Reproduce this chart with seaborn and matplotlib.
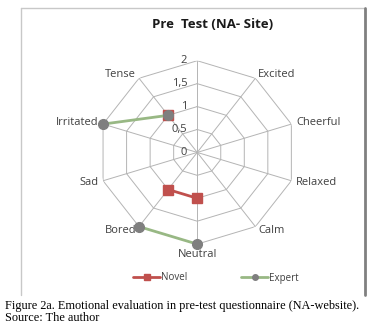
import numpy as np
import pandas as pd
import matplotlib
matplotlib.use("Agg")
import matplotlib.pyplot as plt
from matplotlib.lines import Line2D
import seaborn as sns

# data (blank = no answer, Excel leaves a gap)
categories = ["", "Excited", "Cheerful", "Relaxed", "Calm", "Neutral",
              "Bored", "Sad", "Irritated", "Tense"]
novel = [np.nan, np.nan, np.nan, np.nan, np.nan, 1, 1, np.nan, np.nan, 1]
expert = [np.nan, np.nan, np.nan, np.nan, np.nan, 2, 2, np.nan, 2, 1]
r_ticks = [0, 0.5, 1, 1.5, 2]
r_tick_labels = ["0", "0,5", "1", "1,5", "2"]

sns.set_style("white")
plt.rcParams["font.family"] = ["Open Sans", "DejaVu Sans"]

n = len(categories)
theta = np.linspace(0, 2 * np.pi, n, endpoint=False)
df = pd.DataFrame({"category": categories, "theta": theta,
                   "Novel": novel, "Expert": expert})

red = "#c0504d"
green = "#98b884"
grey = "#7f7f7f"
gridc = "#b4b4b4"

fig = plt.figure(figsize=(3.77, 3.29), dpi=100)

# chart frame (Excel chart area)
fig.add_artist(Line2D([0.055, 0.055], [0.103, 0.977], color="#c8c8c8", lw=1))
fig.add_artist(Line2D([0.055, 0.968], [0.977, 0.977], color="#c8c8c8", lw=1))
fig.add_artist(Line2D([0.968, 0.968], [0.103, 0.977], color="#808080", lw=2))

ax = fig.add_axes([0.2605, 0.258, 0.5252, 0.5574], projection="polar")
ax.set_aspect("auto")
ax.set_theta_zero_location("N")
ax.set_theta_direction(-1)
ax.set_ylim(0, 2)
ax.grid(False)
ax.spines["polar"].set_visible(False)
ax.set_xticks([])
ax.set_yticks([])
ax.patch.set_alpha(0)

# decagon grid + spokes
ring = np.append(theta, theta[0])
for r in r_ticks[1:]:
    ax.plot(ring, [r] * len(ring), color=gridc, lw=0.7, zorder=1)
for t in theta:
    ax.plot([t, t], [0, 2], color=gridc, lw=0.7, zorder=1)

# radial tick labels along the top spoke
for r, lab in zip(r_ticks, r_tick_labels):
    ax.annotate(lab, (0, r), xytext=(-10, 0), textcoords="offset pixels",
                ha="right", va="center", fontsize=8, color="#404040")

# category labels
for t, lab in zip(theta, categories):
    s, c = np.sin(t), np.cos(t)
    if abs(s) < 0.1:
        ha = "center"
    elif s > 0:
        ha = "left"
    else:
        ha = "right"
    va = "top" if c < -0.9 else ("bottom" if c > 0.9 else "center")
    ax.annotate(lab, (t, 2), xytext=(5 * s, 5 * c), textcoords="offset pixels",
                ha=ha, va=va, fontsize=8, color="#404040")

# series
ax.plot(df["theta"], df["Novel"], color=red, lw=2, marker="s", ms=7,
        mfc=red, mec=red, zorder=3, clip_on=False)
ax.plot(df["theta"], df["Expert"], color=green, lw=2, marker="o", ms=7,
        mfc=grey, mec=grey, zorder=4, clip_on=False)

handles = [Line2D([], [], color=red, lw=2, marker="s", ms=5, mfc=red, mec=red),
           Line2D([], [], color=green, lw=2, marker="o", ms=4, mfc=grey, mec=grey)]
fig.legend(handles, ["Novel", "Expert"], loc="center",
           bbox_to_anchor=(216 / 377, 1 - 278 / 329), ncol=2, frameon=False,
           fontsize=7, handlelength=2.8, handletextpad=0.1, columnspacing=5.5,
           labelcolor="#404040")

fig.text(213 / 377, 1 - 25 / 329, "Pre  Test (NA- Site)", ha="center",
         va="center", fontsize=9.5, fontweight="bold", color="#1a1a1a")

cap = ("Figure 2a. Emotional evaluation in pre-test questionnaire (NA-website).\n"
       "Source: The author")
fig.text(5 / 377, 1 - 299.5 / 329, cap, ha="left", va="top", fontsize=8.8,
         family="Liberation Serif", linespacing=1.05, color="black")

fig.savefig("out.png", dpi=100)
